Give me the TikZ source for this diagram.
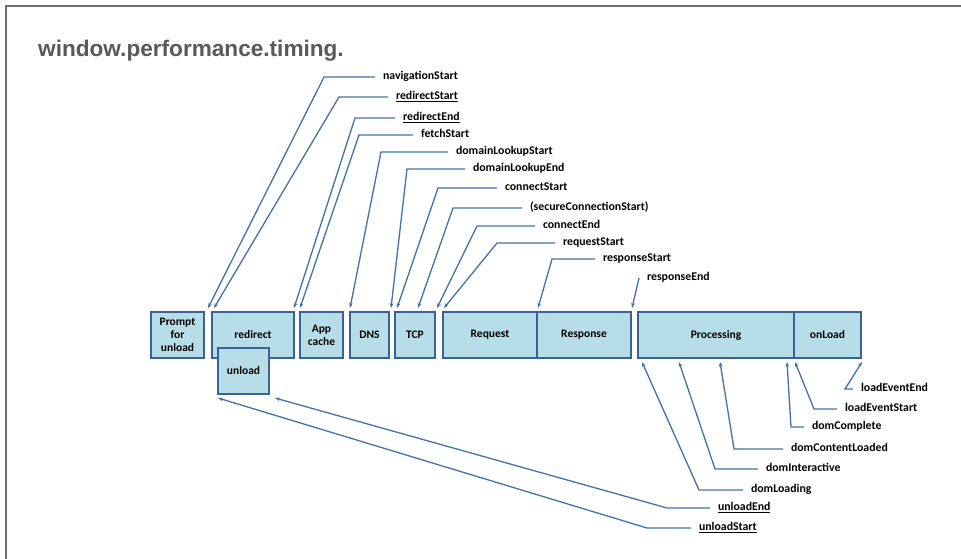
\documentclass[tikz,border=0pt]{standalone}
\usepackage{fontspec}
\setmainfont{Carlito}
\newfontfamily\titlefont{Liberation Sans}
\usetikzlibrary{arrows.meta,positioning}
\definecolor{boxfill}{RGB}{183,222,232}
\definecolor{boxline}{RGB}{58,98,148}
\definecolor{arrline}{RGB}{68,114,166}
\definecolor{titlegray}{RGB}{89,89,89}
\definecolor{framegray}{RGB}{110,110,110}

\begin{document}
\begin{tikzpicture}[x=1pt,y=-1pt]
	\tikzstyle{box}=[draw=boxline,fill=boxfill,line width=1.8pt,inner sep=0pt,outer sep=0pt,minimum height=46,align=center,font=\fontsize{11.5}{13}\selectfont\bfseries]
	\tikzstyle{lbl}=[anchor=west,inner sep=0pt,outer xsep=8pt,outer ysep=0pt,text height=8pt,text depth=2.5pt,font=\fontsize{11.8}{13}\selectfont\bfseries]
	\tikzstyle{arr}=[draw=arrline,line width=1.3pt,-{Stealth[length=5pt,width=3.6pt]}]
	
	\fill[white] (0,0) rectangle (961,559);
	\useasboundingbox (0,0) rectangle (961,559);
	\draw[framegray,line width=1.2pt] (961,6) -- (6,6) -- (6,559);
	
	\node[anchor=base west,inner sep=0pt,text=titlegray,font=\titlefont\fontsize{22.6}{26}\selectfont\bfseries] (title) at (38,57) {window.performance.timing.};
	
	% the phases
	\node[box,minimum width=53] (b1) at (177.5,335) {Prompt\\for\\unload};
	\node[box,minimum width=82,right=8pt of b1] (b2) {redirect};
	\node[box,minimum width=43,right=6pt of b2] (b3) {App\\cache};
	\node[box,minimum width=39,right=7pt of b3] (b4) {DNS};
	\node[box,minimum width=40,right=6pt of b4] (b5) {TCP};
	\node[box,minimum width=94,right=8pt of b5] (b6) {Request};
	\node[box,minimum width=94,right=0pt of b6] (b7) {Response};
	\node[box,minimum width=156,right=7pt of b7] (b8) {Processing};
	\node[box,minimum width=67,right=0pt of b8] (b9) {onLoad};
	\node[box,minimum width=51,anchor=north west] (b10) at ([xshift=6pt,yshift=10pt]b2.south west) {unload};
	
	% the timing attributes
	\node[lbl] (l1) at (375,77) {navigationStart};
	\node[lbl] (l2) at (388,97) {\underline{redirectStart}};
	\node[lbl] (l3) at (395,118) {\underline{redirectEnd}};
	\node[lbl] (l4) at (413,135) {fetchStart};
	\node[lbl] (l5) at (448,152) {domainLookupStart};
	\node[lbl] (l6) at (465,169) {domainLookupEnd};
	\node[lbl] (l7) at (497,188) {connectStart};
	\node[lbl] (l8) at (522,208) {(secureConnectionStart)};
	\node[lbl] (l9) at (535,226) {connectEnd};
	\node[lbl] (l10) at (555,243) {requestStart};
	\node[lbl] (l11) at (595,259) {responseStart};
	\node[lbl] (l12) at (639,278) {responseEnd};
	\node[lbl] (l13) at (853,389) {loadEventEnd};
	\node[lbl] (l14) at (837,409) {loadEventStart};
	\node[lbl] (l15) at (804,427) {domComplete};
	\node[lbl] (l16) at (783,449) {domContentLoaded};
	\node[lbl] (l17) at (758,469) {domInteractive};
	\node[lbl] (l18) at (743,490) {domLoading};
	\node[lbl] (l19) at (710,508) {\underline{unloadEnd}};
	\node[lbl] (l20) at (691,528) {\underline{unloadStart}};
	
	\foreach \i/\x/\y in {1/208/308,2/214/308,3/294/308,4/300/308,5/350/308,6/391/308,7/397/308,8/418/308,9/437/308,10/444/308,11/538/308,12/632/308,13/862/362,14/795/362,15/787/362,16/720/362,17/679/362,18/642/362,19/275/398,20/218/398}
		\coordinate (t\i) at (\x,\y);
	
	\foreach \i/\dx in {1/51,2/49,3/40,4/54,5/67,6/58,7/59,8/69,9/58,10/58,11/43,12/0,13/8,14/23,15/13,16/49,17/43,18/44,19/43,20/44}
		\draw[arr] (l\i.west) -- ++(-\dx,0) -- (t\i);
	
\end{tikzpicture}
\end{document}
